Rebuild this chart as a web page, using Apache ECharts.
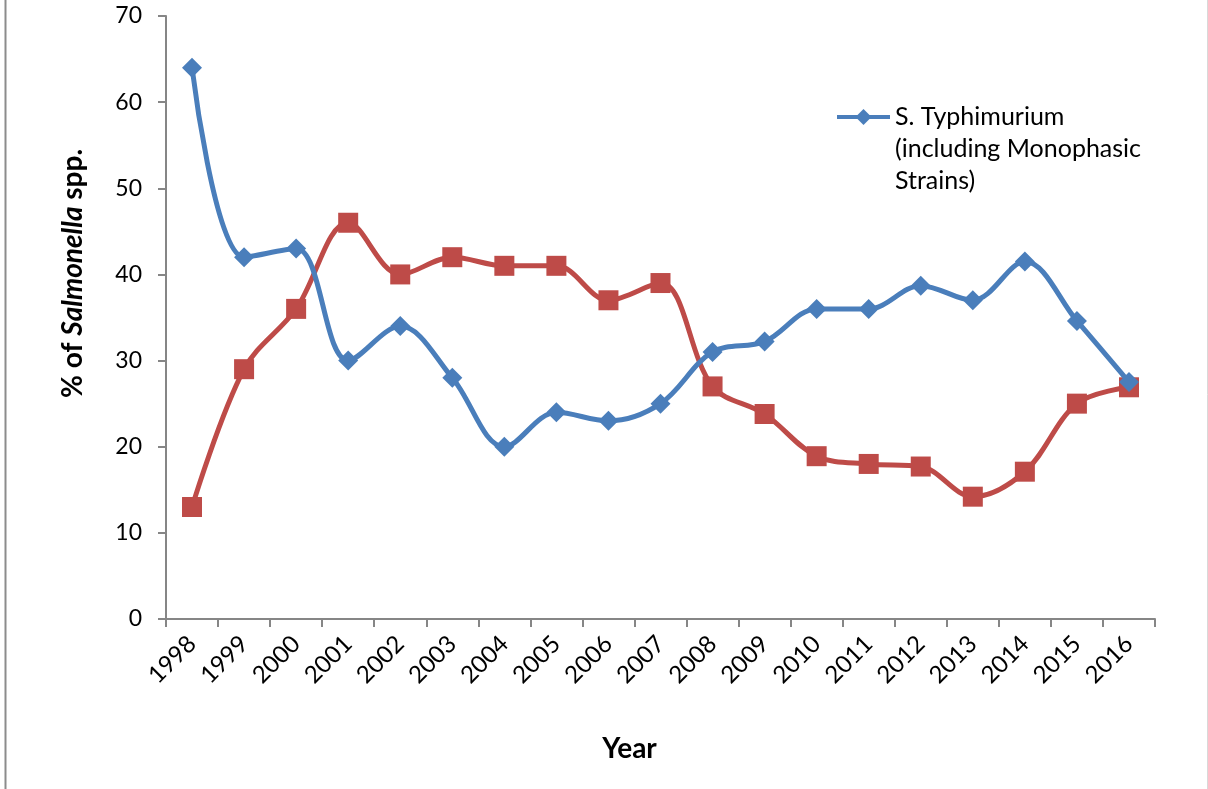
<!DOCTYPE html>
<html>
<head>
<meta charset="utf-8">
<script src="https://cdn.jsdelivr.net/npm/echarts@6/dist/echarts.min.js"></script>
<style>
  html, body { margin: 0; padding: 0; background: #fff; }
  #chart { width: 1208px; height: 789px; }
</style>
</head>
<body>
<div id="chart"></div>
<script>
// Share of Salmonella isolates by serovar, 1998–2016
const years = ['1998', '1999', '2000', '2001', '2002', '2003', '2004', '2005', '2006', '2007',
               '2008', '2009', '2010', '2011', '2012', '2013', '2014', '2015', '2016'];
const typhimurium = [64, 42, 43, 30, 34, 28, 20, 24, 23, 25, 31, 32.2, 36, 36, 38.7, 37, 41.5, 34.6, 27.5];
const otherSerovar = [13, 29, 36, 46, 40, 42, 41, 41, 37, 39, 27, 23.8, 18.9, 18, 17.7, 14.2, 17.1, 25, 26.9];
const yTicks = { min: 0, max: 70, step: 10 };

const FONT = 'Lato, "Open Sans", sans-serif';
const AXIS_GREY = '#868686';
const BLUE = '#4A7EBB';
const RED = '#BE4B48';
const TYPHI_NAME = 'S. Typhimurium\n(including Monophasic\nStrains)';

const chart = echarts.init(document.getElementById('chart'), null, { renderer: 'canvas' });

chart.setOption({
  backgroundColor: '#fff',
  animation: false,
  textStyle: { fontFamily: FONT },
  grid: { left: 166, right: 53, top: 16, bottom: 170, containLabel: false },
  graphic: [
    { type: 'line', shape: { x1: 5.5, y1: 0, x2: 5.5, y2: 789 }, style: { stroke: '#8c8c8c', lineWidth: 2 } },
    { type: 'line', shape: { x1: 1207.5, y1: 0, x2: 1207.5, y2: 789 }, style: { stroke: '#d9d9d9', lineWidth: 1 } }
  ],
  legend: {
    data: [TYPHI_NAME],
    left: 835,
    top: 37,
    padding: 0,
    itemWidth: 53,
    itemHeight: 20,
    // two leading blank lines keep the first text line level with the icon
    formatter: name => '\n\n' + name,
    lineStyle: { width: 4 },
    textStyle: {
      fontFamily: FONT,
      fontSize: 25,
      color: '#000',
      lineHeight: 32
    }
  },
  xAxis: {
    type: 'category',
    data: years,
    boundaryGap: true,
    name: 'Year',
    nameLocation: 'middle',
    nameGap: 116,
    nameTextStyle: { fontFamily: FONT, fontSize: 28, fontWeight: 'bold', color: '#000', padding: [0, 62, 0, 0] },
    axisLine: { lineStyle: { color: AXIS_GREY, width: 2 } },
    axisTick: { show: true, interval: 0, length: 8, alignWithLabel: false, lineStyle: { color: AXIS_GREY, width: 2 } },
    axisLabel: { interval: 0, rotate: 45, margin: 21, fontFamily: FONT, fontSize: 24, color: '#000' },
    splitLine: { show: false }
  },
  yAxis: {
    type: 'value',
    min: yTicks.min,
    max: yTicks.max,
    interval: yTicks.step,
    name: '{b|% of }{i|Salmonella}{b| spp.}',
    nameLocation: 'middle',
    nameGap: 79,
    nameRotate: 90,
    nameTextStyle: {
      rich: {
        b: { fontFamily: FONT, fontSize: 28, fontWeight: 'bold', color: '#000' },
        i: { fontFamily: FONT, fontSize: 28, fontWeight: 'bold', fontStyle: 'italic', color: '#000' }
      },
      padding: [0, 0, 0, 88]
    },
    axisLine: { show: true, lineStyle: { color: AXIS_GREY, width: 2 } },
    axisTick: { show: true, length: 8, lineStyle: { color: AXIS_GREY, width: 2 } },
    axisLabel: { margin: 24, fontFamily: FONT, fontSize: 23, color: '#000' },
    splitLine: { show: false }
  },
  series: [
    {
      name: TYPHI_NAME,
      type: 'line',
      data: typhimurium,
      smooth: 0.35,
      symbol: 'diamond',
      symbolSize: [20, 20],
      showAllSymbol: true,
      itemStyle: { color: BLUE },
      lineStyle: { color: BLUE, width: 5 },
      z: 3
    },
    {
      name: 'Other serovar',
      type: 'line',
      data: otherSerovar,
      smooth: 0.35,
      symbol: 'rect',
      symbolSize: 20,
      showAllSymbol: true,
      itemStyle: { color: RED },
      lineStyle: { color: RED, width: 5 },
      z: 2
    }
  ]
});
</script>
</body>
</html>
